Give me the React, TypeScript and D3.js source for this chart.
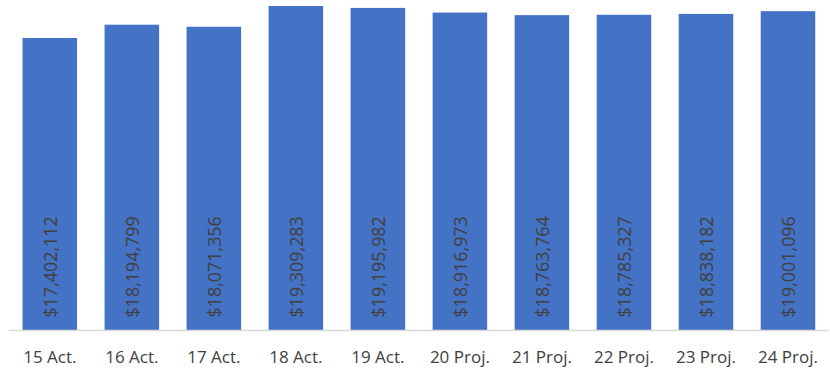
import React from "react";
import * as d3 from "d3";

const categories = ["15 Act.", "16 Act.", "17 Act.", "18 Act.", "19 Act.", "20 Proj.", "21 Proj.", "22 Proj.", "23 Proj.", "24 Proj."];
const values = [17402112, 18194799, 18071356, 19309283, 19195982, 18916973, 18763764, 18785327, 18838182, 19001096];

const W = 830;
const H = 369;
const baseline = 330;
const yMax = 20000000;

const fmt = d3.format("$,");

export default function App() {
  const x = d3.scaleBand<string>().domain(categories).range([8.8, 829]).paddingInner(0.335).paddingOuter(0.1675);
  const y = d3.scaleLinear().domain([0, yMax]).range([baseline, baseline - 16.78 * 20]);
  const font = "'Open Sans', sans-serif";

  return (
    <svg width={W} height={H} style={{ position: "absolute", left: 0, top: 0, background: "#fff" }}>
      {categories.map((c, i) => (
        <rect key={c} x={x(c)} y={y(values[i])} width={x.bandwidth()} height={baseline - y(values[i])} fill="#4472C4" />
      ))}
      <line x1={8.8} x2={829} y1={baseline + 0.5} y2={baseline + 0.5} stroke="#d9d9d9" strokeWidth={1.5} />
      {categories.map((c, i) => {
        const cx = (x(c) as number) + x.bandwidth() / 2;
        return (
          <text key={"v" + c} transform={`translate(${cx},${baseline - 12.5}) rotate(-90)`} dy="0.38em" textAnchor="start"
            fontFamily={font} fontSize={17.9} fill="#404040">{fmt(values[i])}</text>
        );
      })}
      {categories.map((c) => (
        <text key={"l" + c} x={(x(c) as number) + x.bandwidth() / 2} y={363} textAnchor="middle"
          fontFamily={font} fontSize={17} fill="#404040">{c}</text>
      ))}
    </svg>
  );
}
